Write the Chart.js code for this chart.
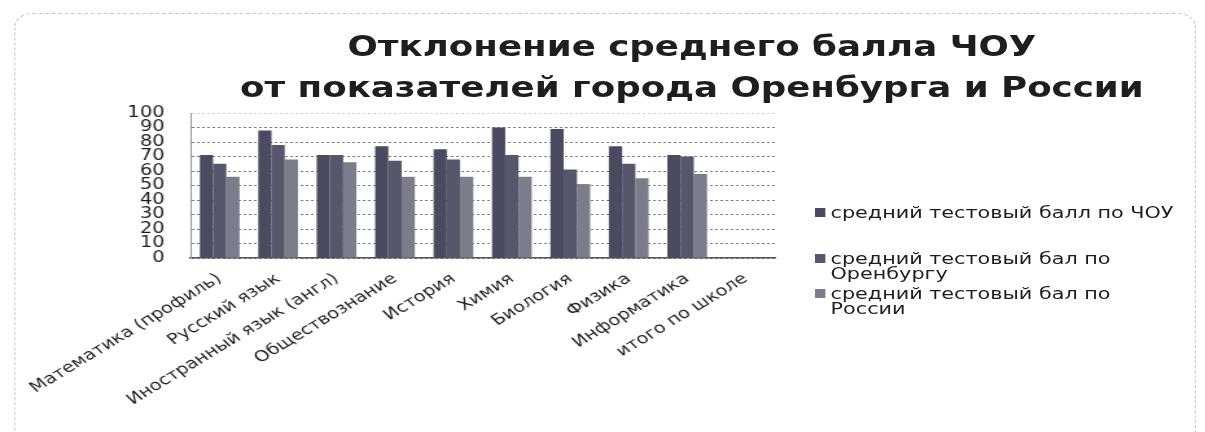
<!DOCTYPE html>
<html>
<head>
<meta charset="utf-8">
<script src="https://cdn.jsdelivr.net/npm/chart.js@4"></script>
<style>
  html, body { margin: 0; padding: 0; background: #fff; overflow: hidden; }
  /* the scanned original is stretched sideways, so the whole sheet is drawn narrow and widened */
  #sheet {
    position: absolute; left: 0; top: 0; width: 930px; height: 432px;
    transform-origin: 0 0; transform: scaleX(1.2957);
    font-family: "DejaVu Sans", sans-serif; color: #1e1e1e;
  }
  #frame {
    position: absolute; left: 11px; top: 13px; width: 910px; height: 440px;
    border: 1px dashed #c8c8c8; border-radius: 14px;
  }
  #title {
    position: absolute; left: 134px; width: 800px; top: 26px;
    text-align: center; font-weight: bold; font-size: 27.5px; line-height: 41px;
  }
  #legend { position: absolute; left: 629px; top: 205px; width: 286px; font-size: 16px; line-height: 15px; }
  .item { position: relative; padding-left: 12px; }
  .item i { position: absolute; left: 0; top: 3px; width: 8px; height: 9px; }
  canvas { position: absolute; left: 0; top: 0; }
</style>
</head>
<body>
<div id="sheet">
  <div id="frame"></div>
  <div id="title">Отклонение среднего балла ЧОУ<br>от показателей города Оренбурга и России</div>
  <canvas id="chart" width="930" height="432" style="width:930px;height:432px"></canvas>
  <div id="legend"></div>
</div>
<script>
// предметы
const subjects = ['Математика (профиль)', 'Русский язык', 'Иностранный язык (англ)', 'Обществознание',
    'История', 'Химия', 'Биология', 'Физика', 'Информатика', 'итого по школе'];
const seriesNames = ['средний тестовый балл по ЧОУ', 'средний тестовый бал по Оренбургу', 'средний тестовый бал по России'];
// баллы
const scoreSchool = [71, 88, 71, 77, 75, 90, 89, 77, 71, null];
const scoreCity = [65, 78, 71, 67, 68, 71, 61, 65, 70, null];
const scoreRussia = [56, 68, 66, 56, 56, 56, 51, 55, 58, null];
const yTicks = [0, 10, 20, 30, 40, 50, 60, 70, 80, 90, 100];

const colors = ['#4a4b61', '#56576b', '#7c7d8b'];
const allSeries = [scoreSchool, scoreCity, scoreRussia];
const legendGaps = [46, 35, 0];

const legendEl = document.getElementById('legend');
seriesNames.forEach((name, i) => {
    const el = document.createElement('div');
    el.className = 'item';
    el.style.marginBottom = (legendGaps[i] - (i === 1 ? 30 : 15)) + 'px';
    el.innerHTML = `<i style="background:${colors[i]}"></i>${name}`;
    legendEl.appendChild(el);
});

new Chart(document.getElementById('chart'), {
    type: 'bar',
    data: {
        labels: subjects,
        datasets: allSeries.map((d, i) => ({
            label: seriesNames[i],
            data: d,
            backgroundColor: colors[i],
            categoryPercentage: 0.68,
            barPercentage: 1.0
        }))
    },
    options: {
        responsive: false,
        animation: false,
        layout: { padding: { top: 113, right: 332, left: 0, bottom: 0 } },
        plugins: { legend: { display: false }, title: { display: false }, tooltip: { enabled: false } },
        scales: {
            x: {
                afterFit: s => { s.height = 174; },
                grid: { display: false },
                border: { color: '#555', width: 1.5 },
                ticks: {
                    autoSkip: false, minRotation: 38, maxRotation: 38, padding: 4,
                    color: '#1e1e1e', font: { family: 'DejaVu Sans', size: 15 }
                }
            },
            y: {
                min: 0, max: 100,
                afterFit: s => { s.width = 147; },
                afterBuildTicks: s => { s.ticks = yTicks.map(v => ({ value: v })); },
                grid: {
                    drawTicks: false,
                    color: c => c.tick.value === 100 ? '#cfcfcf' : '#7a7a7a'
                },
                border: { color: '#999', dash: [2, 2] },
                ticks: { autoSkip: false, padding: 20, color: '#1e1e1e', font: { family: 'DejaVu Sans', size: 15 } }
            }
        }
    }
});
</script>
</body>
</html>
